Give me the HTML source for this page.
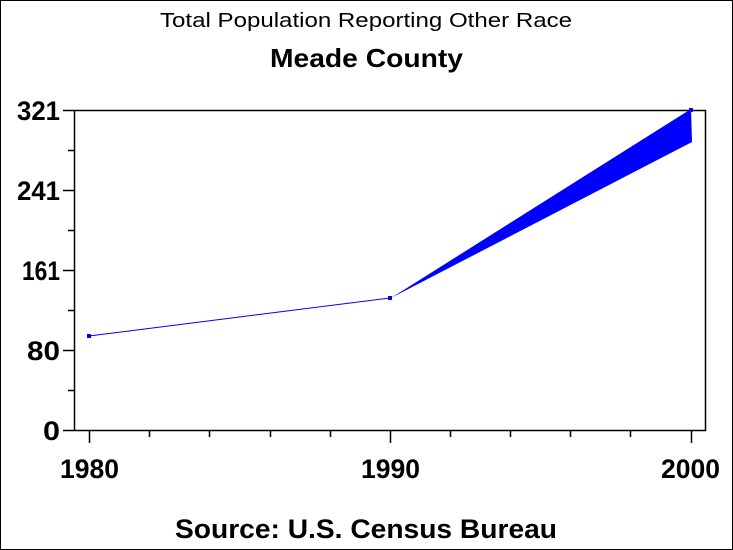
<!DOCTYPE html>
<html><head><style>body{margin:0}svg{display:block}</style></head><body>
<svg width="733" height="550" xmlns="http://www.w3.org/2000/svg" font-family="Liberation Sans, Arial, sans-serif">
<rect x="0.5" y="0.5" width="732" height="549" fill="#fff" stroke="#000"/>
<text x="160" y="27" font-size="20" textLength="412" lengthAdjust="spacingAndGlyphs">Total Population Reporting Other Race</text>
<text x="270" y="67" font-size="26" font-weight="bold" textLength="193" lengthAdjust="spacingAndGlyphs">Meade County</text>
<rect x="74.5" y="110.5" width="631" height="320" fill="none" stroke="#000" stroke-width="1.5"/>
<g stroke="#000" stroke-width="1.5">
<line x1="63" y1="110.5" x2="74" y2="110.5"/><line x1="68" y1="150.5" x2="74" y2="150.5"/>
<line x1="63" y1="190.5" x2="74" y2="190.5"/><line x1="68" y1="230.5" x2="74" y2="230.5"/>
<line x1="63" y1="270.5" x2="74" y2="270.5"/><line x1="68" y1="310.5" x2="74" y2="310.5"/>
<line x1="63" y1="350.5" x2="74" y2="350.5"/><line x1="68" y1="390.5" x2="74" y2="390.5"/>
<line x1="63" y1="430.5" x2="74" y2="430.5"/>
<line x1="89.5" y1="430" x2="89.5" y2="443"/><line x1="390.5" y1="430" x2="390.5" y2="443"/><line x1="691.5" y1="430" x2="691.5" y2="443"/>
<line x1="149.5" y1="430" x2="149.5" y2="437"/><line x1="209.5" y1="430" x2="209.5" y2="437"/><line x1="270.5" y1="430" x2="270.5" y2="437"/><line x1="330.5" y1="430" x2="330.5" y2="437"/>
<line x1="450.5" y1="430" x2="450.5" y2="437"/><line x1="510.5" y1="430" x2="510.5" y2="437"/><line x1="570.5" y1="430" x2="570.5" y2="437"/><line x1="630.5" y1="430" x2="630.5" y2="437"/>
</g>
<g font-size="27" font-weight="bold">
<text x="17" y="120" textLength="43" lengthAdjust="spacingAndGlyphs">321</text>
<text x="17" y="200" textLength="43" lengthAdjust="spacingAndGlyphs">241</text>
<text x="22" y="280" textLength="38" lengthAdjust="spacingAndGlyphs">161</text>
<text x="27" y="360" textLength="33" lengthAdjust="spacingAndGlyphs">80</text>
<text x="43" y="440" textLength="17" lengthAdjust="spacingAndGlyphs">0</text>
<text x="60" y="478" textLength="59" lengthAdjust="spacingAndGlyphs">1980</text>
<text x="361" y="478" textLength="59" lengthAdjust="spacingAndGlyphs">1990</text>
<text x="661" y="478" textLength="59" lengthAdjust="spacingAndGlyphs">2000</text>
</g>
<polyline points="89,336 390,298" fill="none" stroke="#00f" stroke-width="1"/>
<polygon points="391,298 691,109 692,142" fill="#00f"/>
<rect x="87" y="334" width="4" height="4" fill="#00f"/>
<rect x="388" y="296" width="4" height="4" fill="#00f"/>
<rect x="689" y="108" width="4" height="4" fill="#00f"/>
<text x="175" y="538" font-size="27" font-weight="bold" textLength="382" lengthAdjust="spacingAndGlyphs">Source: U.S. Census Bureau</text>
</svg>
</body></html>
